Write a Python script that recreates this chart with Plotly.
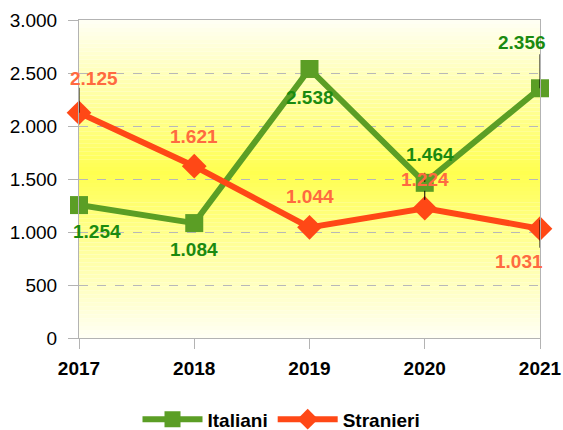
import plotly.graph_objects as go

# data
anni = ["2017", "2018", "2019", "2020", "2021"]
italiani = [1254, 1084, 2538, 1464, 2356]
stranieri = [2125, 1621, 1044, 1224, 1031]

# label offsets (px) for each point, as in the original chart
ita_shift = [(18, -26), (0, -26), (0, -29), (5, 28), (-18, 46)]
str_shift = [(15, 34), (0, 30), (0, 31), (0, 29), (-21, -33)]

GREEN = "#5b9e25"
GREEN_TXT = "#1a8a10"
ORANGE = "#ff4816"
ORANGE_TXT = "#ff6a40"

fig = go.Figure()
fig.add_trace(go.Scatter(x=anni, y=italiani, name="<b>Italiani</b>", mode="lines+markers",
                         line=dict(color=GREEN, width=6),
                         marker=dict(symbol="square", size=18, color=GREEN),
                         cliponaxis=False))
fig.add_trace(go.Scatter(x=anni, y=stranieri, name="<b>Stranieri</b>", mode="lines+markers",
                         line=dict(color=ORANGE, width=6),
                         marker=dict(symbol="diamond", size=19, color=ORANGE),
                         cliponaxis=False))

# data labels
for vals, shifts, col in [(italiani, ita_shift, GREEN_TXT), (stranieri, str_shift, ORANGE_TXT)]:
    for i, (v, (dx, dy)) in enumerate(zip(vals, shifts)):
        fig.add_annotation(x=i, y=v, xref="x", yref="y",
                           text="<b>" + f"{v:,}".replace(",", ".") + "</b>", showarrow=False,
                           xshift=dx, yshift=dy,
                           font=dict(family="Liberation Sans", size=19, color=col))

# small black leader lines (index, value, px below, px above, dash)
leaders = [(0, stranieri[0], 0, 25, "solid"), (4, italiani[4], 0, 34, "solid"),
           (4, stranieri[4], -19, 9, "solid"), (3, italiani[3], -17, 16, "dash")]
for i, v, p0, p1, d in leaders:
    fig.add_shape(type="line", xref="x", yref="y", x0=i, x1=i, ysizemode="pixel",
                  yanchor=v, y0=p0, y1=p1, line=dict(color="black", width=1, dash=d))

# vertical gradient background (white -> yellow -> white)
n = 80
for i in range(n):
    t = (i + 0.5) / n
    k = t / 0.52 if t < 0.52 else 1 - (t - 0.52) / 0.48
    b = int(round(245 - k * (245 - 80)))
    fig.add_shape(type="rect", xref="paper", yref="paper", x0=0, x1=1,
                  y0=i / n, y1=(i + 1) / n, line_width=0,
                  fillcolor=f"rgb(255,255,{b})", layer="below")

fig.update_layout(
    width=563, height=430,
    margin=dict(l=79, r=23, t=20, b=92, autoexpand=False),
    paper_bgcolor="white", plot_bgcolor="white",
    separators=",.",
    showlegend=True,
    legend=dict(orientation="h", xref="container", x=0.5, xanchor="center",
                y=-0.196, yanchor="top", itemwidth=60,
                font=dict(family="Liberation Sans", size=19, color="black")),
    font=dict(family="Liberation Sans"),
)
fig.update_xaxes(type="category", range=[0, 4], showgrid=False, automargin=False,
                 showline=True, linecolor="#b3b3b3", mirror=True,
                 ticks="outside", ticklen=10, tickcolor="#b3b3b3",
                 ticklabelstandoff=3,
                 tickvals=list(range(len(anni))), ticktext=["<b>" + a + "</b>" for a in anni],
                 tickfont=dict(size=19, color="black"))
fig.update_yaxes(range=[0, 3000], dtick=500, tickformat=",d", automargin=False,
                 showgrid=True, gridcolor="#b8b8b8", griddash="dash", gridwidth=1,
                 showline=True, linecolor="#b3b3b3", mirror=True,
                 ticks="outside", ticklen=10, tickcolor="#b3b3b3",
                 ticklabelstandoff=7,
                 zeroline=False,
                 tickfont=dict(size=19, color="black"))

fig.write_html("out.html", config={"displayModeBar": False},
               post_script="document.body.style.margin='0';")
